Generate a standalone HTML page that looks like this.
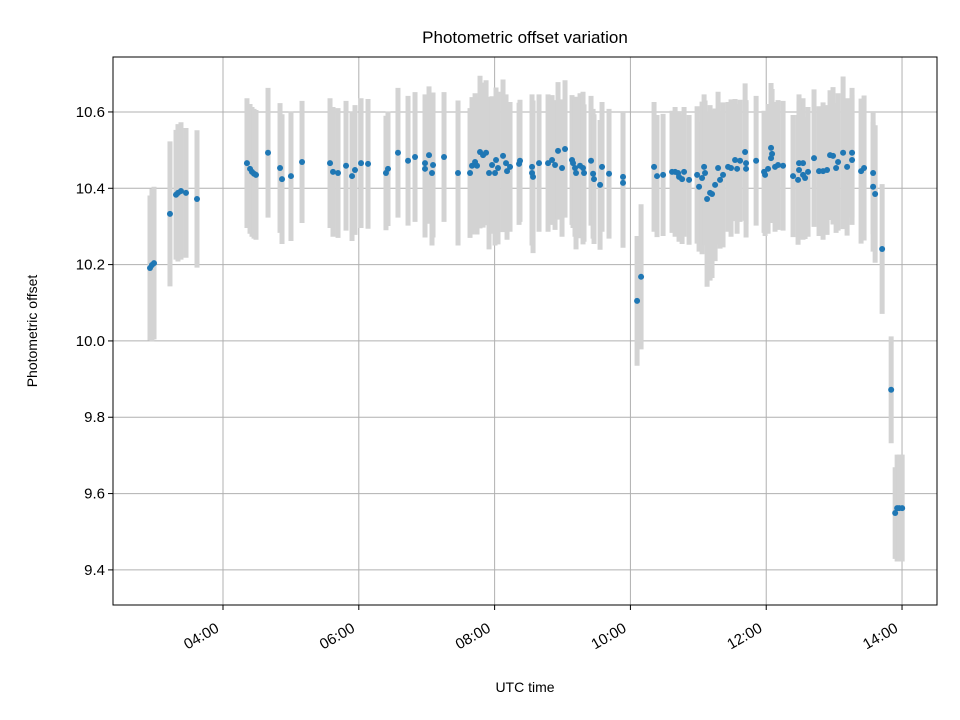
<!DOCTYPE html>
<html><head><meta charset="utf-8"><style>
body{margin:0;background:#fff;}
svg{display:block;font-family:"Liberation Sans","DejaVu Sans",sans-serif;}
</style></head><body>
<svg id="chart" width="960" height="720" viewBox="0 0 960 720">
<rect width="960" height="720" fill="#fff"/>
<text x="525" y="43" text-anchor="middle" font-size="17">Photometric offset variation</text>
<text x="525" y="692" text-anchor="middle" font-size="14">UTC time</text>
<text transform="translate(37,331) rotate(-90)" text-anchor="middle" font-size="14">Photometric offset</text>
<g id="grid"></g>
<g id="errs"></g>
<g id="pts"></g>
<g id="axes"></g>
</svg>
<script>
const times=[2.925,2.954,2.984,3.219,3.308,3.337,3.381,3.455,3.617,
4.353,4.398,4.427,4.457,4.486,4.663,4.840,4.869,5.001,5.164,
5.576,5.620,5.694,5.812,5.900,5.944,6.033,6.136,6.400,6.430,6.577,
6.725,6.828,6.975,6.975,7.034,7.078,7.093,7.255,7.461,7.638,7.667,7.712,7.741,7.785,7.830,7.874,
7.918,7.962,8.021,8.006,8.050,8.124,8.168,8.183,8.227,8.374,8.360,8.551,8.551,8.566,8.654,
8.787,8.846,8.890,8.934,9.037,8.993,9.140,9.155,9.184,9.199,9.258,9.302,9.317,9.420,9.450,9.464,9.553,9.582,
9.685,9.891,9.891,10.098,10.157,
10.348,10.392,10.481,10.613,10.658,10.702,10.716,10.761,10.790,10.864,10.982,11.011,11.055,11.085,11.099,11.129,11.173,11.202,
11.247,11.291,11.320,11.364,11.438,11.482,11.541,11.571,11.615,11.689,11.703,11.703,11.851,11.968,11.983,12.027,12.071,12.086,12.071,
12.130,12.174,12.248,12.395,12.483,12.542,12.483,12.469,12.542,12.572,12.616,12.704,12.778,12.837,12.896,12.940,12.984,13.029,13.058,
13.132,13.191,13.264,13.264,13.397,13.441,13.574,13.574,13.604,13.707,13.840,13.899,13.928,13.958,14.002];
const values=[10.191,10.199,10.204,10.333,10.383,10.388,10.393,10.388,10.372,
10.466,10.451,10.443,10.438,10.435,10.493,10.453,10.424,10.432,10.469,
10.466,10.443,10.440,10.459,10.432,10.448,10.466,10.464,10.440,10.451,10.493,
10.472,10.482,10.466,10.451,10.487,10.440,10.461,10.482,10.440,10.440,10.459,10.469,10.459,10.495,10.487,10.493,
10.440,10.461,10.474,10.440,10.453,10.485,10.466,10.445,10.456,10.472,10.464,10.456,10.440,10.430,10.466,
10.466,10.474,10.461,10.498,10.503,10.453,10.474,10.466,10.453,10.440,10.459,10.453,10.440,10.472,10.438,10.424,10.409,10.456,
10.438,10.430,10.414,10.105,10.168,
10.456,10.432,10.435,10.443,10.443,10.440,10.430,10.424,10.443,10.422,10.435,10.404,10.427,10.456,10.440,10.372,10.388,10.385,
10.409,10.453,10.422,10.435,10.456,10.453,10.474,10.451,10.472,10.495,10.466,10.451,10.472,10.443,10.435,10.451,10.506,10.490,10.479,
10.456,10.461,10.459,10.432,10.466,10.466,10.448,10.422,10.435,10.427,10.443,10.479,10.445,10.445,10.448,10.487,10.485,10.453,10.469,
10.493,10.456,10.493,10.474,10.445,10.453,10.440,10.404,10.385,10.241,9.872,9.549,9.562,9.562,9.562];
const errors=[0.19,0.2,0.2,0.19,0.17,0.18,0.18,0.17,0.18,
0.17,0.17,0.17,0.17,0.17,0.17,0.17,0.17,0.17,0.16,
0.17,0.17,0.17,0.17,0.17,0.17,0.17,0.17,0.15,0.15,0.17,
0.17,0.17,0.18,0.18,0.18,0.19,0.19,0.17,0.19,0.17,0.18,0.18,0.18,0.2,0.19,0.19,
0.2,0.18,0.19,0.19,0.2,0.2,0.18,0.18,0.17,0.16,0.16,0.19,0.19,0.2,0.18,
0.18,0.17,0.17,0.18,0.18,0.18,0.17,0.17,0.18,0.2,0.19,0.2,0.18,0.17,0.17,0.17,0.17,0.17,
0.17,0.17,0.17,0.17,0.19,
0.17,0.16,0.16,0.16,0.17,0.16,0.17,0.17,0.17,0.17,0.18,0.17,0.2,0.19,0.19,0.23,0.23,0.22,
0.2,0.2,0.18,0.19,0.17,0.18,0.16,0.17,0.16,0.18,0.16,0.18,0.17,0.16,0.16,0.17,0.17,0.17,0.17,
0.17,0.17,0.17,0.16,0.18,0.17,0.18,0.17,0.17,0.16,0.17,0.18,0.17,0.18,0.17,0.17,0.18,0.17,0.18,
0.2,0.18,0.17,0.17,0.19,0.19,0.16,0.17,0.18,0.17,0.14,0.12,0.14,0.14,0.14];
const yTicks=[9.4,9.6,9.8,10.0,10.2,10.4,10.6];
const yTickLabels=["9.4","9.6","9.8","10.0","10.2","10.4","10.6"];
const xTicks=[4,6,8,10,12,14];
const xTickLabels=["04:00","06:00","08:00","10:00","12:00","14:00"];

const L=113,R=937,T=57,B=605;
const xMin=2.380,xMax=14.515,yMin=9.308,yMax=10.744;
const sx=h=>L+(h-xMin)/(xMax-xMin)*(R-L);
const sy=v=>B-(v-yMin)/(yMax-yMin)*(B-T);
const NS="http://www.w3.org/2000/svg";
function mk(tag,attrs,parent,text){const e=document.createElementNS(NS,tag);for(const k in attrs)e.setAttribute(k,attrs[k]);if(text!==undefined)e.textContent=text;parent.appendChild(e);return e;}
const grid=document.getElementById('grid'),errs=document.getElementById('errs'),pts=document.getElementById('pts'),axes=document.getElementById('axes');
yTicks.forEach((v,i)=>{const y=sy(v);
 const g=mk('line',{x1:L,x2:R,y1:y,y2:y,stroke:'#b0b0b0','stroke-width':1},grid);
 
 
 mk('line',{x1:L-5,x2:L,y1:y,y2:y,stroke:'#000','stroke-width':1},axes);
 const t=mk('text',{x:L-8,y:y+5,'text-anchor':'end','font-size':15},axes,yTickLabels[i]);
 
 
});
xTicks.forEach((h,i)=>{const x=sx(h);
 const g=mk('line',{x1:x,x2:x,y1:T,y2:B,stroke:'#b0b0b0','stroke-width':1},grid);
 
 
 mk('line',{x1:x,x2:x,y1:B,y2:B+5,stroke:'#000','stroke-width':1},axes);
 const t=mk('text',{transform:`translate(${x-3},${B+26}) rotate(-30)`,'text-anchor':'end','font-size':15},axes,xTickLabels[i]);
 
 
});
const frame=mk('rect',{x:L,y:T,width:R-L,height:B-T,fill:'none',stroke:'#000','stroke-width':1},axes);


times.forEach((h,i)=>{const x=sx(h);
 const e=mk('line',{x1:x,x2:x,y1:sy(values[i]+errors[i]),y2:sy(values[i]-errors[i]),stroke:'#d3d3d3','stroke-width':5},errs);
 
 
 const c=mk('circle',{cx:x,cy:sy(values[i]),r:3,fill:'#1f77b4'},pts);
 
 
});
</script>
</body></html>
